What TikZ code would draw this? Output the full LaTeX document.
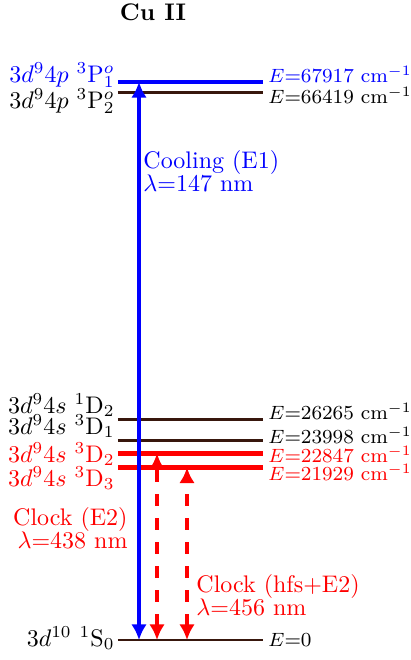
\documentclass[tikz,border=0pt]{standalone}
\usepackage{amsmath}
\usepackage{amssymb}
\usetikzlibrary{arrows.meta}

\definecolor{lvlbrown}{rgb}{0.22,0.09,0.05}

\begin{document}
\begin{tikzpicture}[x=0.41667pt,y=-0.41667pt,
  lvl/.style={line width=0.85pt,lvlbrown},
  lvlblue/.style={line width=1.7pt,blue},
  lvlred/.style={line width=1.7pt,red},
  cool/.style={line width=1.5pt,blue,{Latex[length=6.5pt,width=6.5pt]}-{Latex[length=6.5pt,width=6.5pt]}},
  clock/.style={line width=1.4pt,red,dash pattern=on 5pt off 5pt,{Latex[length=6.5pt,width=6.5pt]}-{Latex[length=6.5pt,width=6.5pt]}},
  lname/.style={anchor=base east,inner sep=0pt},
  ename/.style={anchor=base west,inner sep=0pt,font=\fontsize{8.3}{10}\selectfont}]
  \useasboundingbox (0,0) rectangle (411,660);

  \node[anchor=base,font=\bfseries] (title) at (153,20) {Cu II};

  % levels
  \draw[lvlblue] (118,82) coordinate (P1) -- (263,82);
  \draw[lvl] (118,92.5) coordinate (P2) -- (263,92.5);
  \draw[lvl] (118,419.5) coordinate (D12) -- (263,419.5);
  \draw[lvl] (118,440.5) coordinate (D31) -- (263,440.5);
  \draw[lvlred] (118,453.5) coordinate (D32) -- (263,453.5);
  \draw[lvlred] (118,467.5) coordinate (D33) -- (263,467.5);
  \draw[lvl] (118,640) coordinate (S0) -- (263,640);

  % level names
  \node[lname,blue] (nP1) at (115,82) {$3d^9 4p~^3\mathrm{P}^o_1$};
  \node[lname] (nP2) at (115,108) {$3d^9 4p~^3\mathrm{P}^o_2$};
  \node[lname] (nD12) at (115,413) {$3d^9 4s~^1\mathrm{D}_2$};
  \node[lname] (nD31) at (115,434) {$3d^9 4s~^3\mathrm{D}_1$};
  \node[lname,red] (nD32) at (115,462) {$3d^9 4s~^3\mathrm{D}_2$};
  \node[lname,red] (nD33) at (115,486) {$3d^9 4s~^3\mathrm{D}_3$};
  \node[lname] (nS0) at (115,646) {$3d^{10}~^1\mathrm{S}_0$};

  % energies
  \node[ename,blue] (eP1) at (268,82) {$E$=67917 cm$^{-1}$};
  \node[ename] (eP2) at (268,103) {$E$=66419 cm$^{-1}$};
  \node[ename] (eD12) at (268,419) {$E$=26265 cm$^{-1}$};
  \node[ename] (eD31) at (268,443) {$E$=23998 cm$^{-1}$};
  \node[ename,red] (eD32) at (268,462) {$E$=22847 cm$^{-1}$};
  \node[ename,red] (eD33) at (268,480) {$E$=21929 cm$^{-1}$};
  \node[ename] (eS0) at (268,646) {$E$=0};

  % transitions
  \coordinate (xcool) at (139,0);
  \coordinate (xclkA) at (157,0);
  \coordinate (xclkB) at (187,0);
  \draw[cool] (S0 -| xcool) -- (P1 -| xcool);
  \draw[clock] (S0 -| xclkA) -- (D32 -| xclkA);
  \draw[clock] (S0 -| xclkB) -- (D33 -| xclkB);

  \node[blue,anchor=west,align=left,inner sep=0pt] (tcool) at (143,171)
    {Cooling (E1)\\[-2.5pt]$\lambda$=147 nm};
  \node[red,anchor=east,align=right,inner sep=0pt] (tclkA) at (128,528)
    {Clock (E2)\\[-2.5pt]$\lambda$=438 nm};
  \node[red,anchor=west,align=left,inner sep=0pt] (tclkB) at (196,595)
    {Clock (hfs+E2)\\[-2.5pt]$\lambda$=456 nm};
\end{tikzpicture}
\end{document}
